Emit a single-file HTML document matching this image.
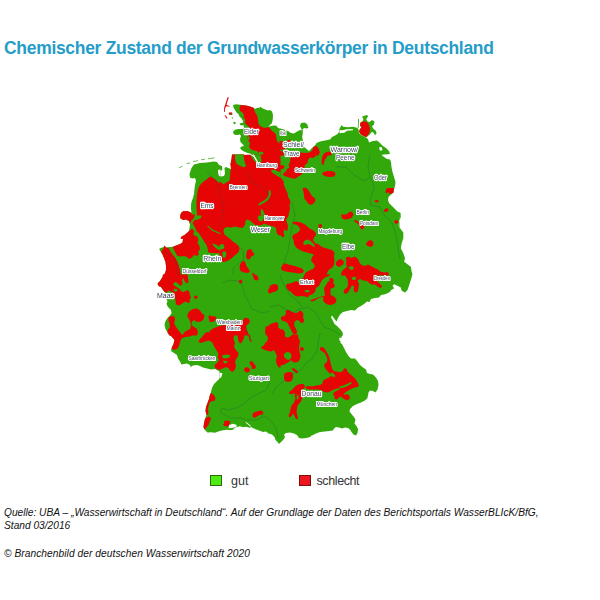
<!DOCTYPE html>
<html><head><meta charset="utf-8">
<style>
html,body{margin:0;padding:0;background:#fff;}
body{width:600px;height:600px;position:relative;overflow:hidden;font-family:"Liberation Sans",sans-serif;}
.t{position:absolute;white-space:nowrap;}
#title{left:4px;top:37.7px;font-size:17.5px;font-weight:bold;color:#259dc8;letter-spacing:-0.31px;}
.leg{font-size:12.5px;color:#333;}
.src{font-size:10.2px;line-height:12px;font-style:italic;color:#111;}
.sw{position:absolute;width:10px;height:9px;border:1px solid #555;}
svg{position:absolute;left:0;top:0;filter:blur(0.4px);}
</style></head><body>
<div class="t" id="title">Chemischer Zustand der Grundwasserkörper in Deutschland</div>
<svg id="map" width="600" height="600" viewBox="0 0 600 600">
<polygon points="233,105 236,104.2 240,104.8 246,105.5 250,106.5 253.5,107.8 255,109 256.2,108.3 260,107.5 260.6,106.6 261.5,107.8 264,109 268,110.5 270,110 272,111.5 273,115 272.8,119 272,123 270,125 268.2,126.8 272,125.8 276,125.5 278,127.8 279,128.5 280.5,128.5 280.5,155.5 252,155.5 249,153.5 246.5,152.5 244,151.5 241.5,150 240,148 241.5,146.5 244,146 242.5,144 240.5,142 240,139 241,136 240,134.5 237,135 234,134.5 233,132 234.5,130 238,129 242.5,129 244,128 243.5,125 242,125.5 240,125 239.7,123.5 241.5,123 243.2,122.5 243,121.2 241.5,118.5 239.5,116.5 238.5,114 236.5,112.5 235,110 233.5,107.5" fill="#32a80a"/>
<polygon points="233.5,122 235,121.8 235.8,123.2 234.8,124.2 233.5,123.8" fill="#32a80a"/>
<polygon points="231.8,117.5 233,117.2 233.2,118.2 232,118.5" fill="#32a80a"/>
<polygon points="301,123 304.5,122.5 307,124 308.5,127.5 307,128.5 304,128 302.5,129.5 303.2,131 302.2,131.2 301.2,128.5 300,126" fill="#32a80a"/>
<polygon points="279.5,128.5 284,129.5 288,131 291,133 294,133.5 297,131.5 300,130 302.5,130.5 302.8,133 302.2,137 302.8,140 303.5,143 304,147 306,148.5 309,151 311,149 313,147 315,145.5 316.5,143 320,141.5 325,140.5 330,139.5 332,137 336,135 338,133.5 340.5,129.5 340.5,155.5 279.5,155.5" fill="#32a80a"/>
<polygon points="339.5,128.5 341.8,125 343,126.8 348,127.2 353,126.8 357,127.8 358.5,129.2 359,133 361,135 365,137 368,139 369,142.5 373,141 377,140.5 380,143 383,146 386,148 389,151 390,153.8 388,154.2 384,154.4 381.2,155 380.6,155.5 339.5,155.5" fill="#32a80a"/>
<polygon points="362,116.5 367,115 368.2,116.2 366.2,119 367.5,121.5 369.5,122 372,120 374.5,121.5 374,124.5 372,126.2 373.2,128.5 375.6,130.5 376.6,133.2 375.2,135.2 373.5,132.8 371.8,131.8 370,134.2 368,136 366.5,137.2 363.5,136.2 360.5,134.2 359,131.5 360,129 361.5,127.5 360,125.5 360.5,122.5 362.5,121.2 363.5,119" fill="#32a80a"/>
<polygon points="358.2,119 359,119 358.6,128 357.8,128" fill="#32a80a"/>
<polygon points="194,164.5 200,163 207,162.5 214,161.5 217,162 219,165 220.5,165.5 220.5,215.5 180.5,215.5 181,213 183,211.2 187,211 190,212 191.5,213 191,209 191,205 191.5,202 193,198 194,194 194.5,189 195,185 196,181 195,178 192,178.5 190,177.5 189.5,174 190.5,171 191.5,168" fill="#32a80a"/>
<polygon points="232,154.5 280.5,154.5 280.5,215.5 219.5,215.5 219.5,175.5 221.5,176.5 224,176 225,173.5 224.5,168 226,167 229.5,168.5 231,169 230.5,164 231.5,159" fill="#32a80a"/>
<polygon points="279.5,154.5 340.5,154.5 340.5,215.5 279.5,215.5" fill="#32a80a"/>
<polygon points="339.5,154.5 381,154.5 384,157 387,159 390,159.5 391,162 391.5,167 392.5,172 394,177 395.5,182 395,186 394,189 393.5,192.5 391,194.5 388.5,197 388,200 389,203 392,206 395,209 397.5,211.5 400.5,213 400.5,215.5 339.5,215.5" fill="#32a80a"/>
<polygon points="180.5,214.5 180,218 183,220 186,219.5 189,221 190,224 189.5,228 189,231 187,233 184.5,235 181.5,236.5 180.5,238.5 183,239 182.5,242.5 180,244 176,245.5 173,246.8 170,247 166,247.5 164.5,245.5 163.5,247 161,248 159.5,248.5 159.5,250 161,252 162.5,254.5 164,258 165.5,262 166,266 166,270 165,273 163.5,275.5 220.5,275.5 220.5,214.5" fill="#32a80a"/>
<polygon points="219.5,214.5 280.5,214.5 280.5,275.5 219.5,275.5" fill="#32a80a"/>
<polygon points="279.5,214.5 340.5,214.5 340.5,275.5 279.5,275.5" fill="#32a80a"/>
<polygon points="339.5,214.5 400,214.5 399.8,218 399,221.5 398.5,225.5 400,228.5 400.5,229 400.5,275.5 339.5,275.5" fill="#32a80a"/>
<polygon points="399.5,212 400,212.5 400.8,216.7 399.2,221.7 398.3,225.8 400.8,229.2 403.3,232.5 403.3,238.3 401.7,243.3 400.8,248.3 403.3,253.3 405,258.3 404.2,261.7 407.5,264.2 410.8,266.7 411.7,271.7 412.5,274.2 410.8,280 409.2,285 407.5,290 405,292.5 401.7,290.8 400.8,287.5 397.5,285.8 394.2,284.2 392.5,285.8 394.2,288.3 390,290.8 389,291.5 389,274 399.5,274" fill="#32a80a"/>
<polygon points="163,274.5 162.5,277 160,281 157.5,283.5 158.5,286 161,287 163,290 165,292.5 167.5,293.5 166.5,296.5 166,298.5 167.5,301 166.5,304 168,307 171,310 171.5,313.5 169.5,316 167.5,318 165.5,321 164.5,325 165.5,329 167.5,332.5 169.5,335.5 210.5,335.5 210.5,274.5" fill="#32a80a"/>
<polygon points="209.5,274.5 270.5,274.5 270.5,335.5 209.5,335.5" fill="#32a80a"/>
<polygon points="269.5,274.5 330.5,274.5 330.5,335.5 269.5,335.5" fill="#32a80a"/>
<polygon points="329.5,274.5 390.5,274.5 390.5,291.5 387,293.5 384,294.5 381,295 379,297.5 375,298 371,299 369.5,302 367,301.5 364,304 361,306 358,307.5 355,310.5 351,310 347,311 343,312 340,314.5 338,318 336.5,321.5 334.5,319 332,315.5 331,317 333,321 334.5,324 337,326 340,329 342.5,332 343,335.5 329.5,335.5" fill="#32a80a"/>
<polygon points="169.5,334.5 172,337 174.5,340 173.5,344 171.5,348 171,351 174,353 177,355 178,358.5 180,361.5 181.5,364.5 184,364 187,363.5 190,365 190.5,367 193,365.5 197,365 200,366 203,367.5 207,368.5 211,369.5 215,369 218,370.5 220.5,372 220.5,334.5" fill="#32a80a"/>
<polygon points="220.5,377.8 217,381 214,384 212,388 211,392 210,395.5 220.5,395.5" fill="#32a80a"/>
<polygon points="219.5,334.5 280.5,334.5 280.5,395.5 219.5,395.5" fill="#32a80a"/>
<polygon points="279.5,334.5 340.5,334.5 340.5,395.5 279.5,395.5" fill="#32a80a"/>
<polygon points="339.5,342.5 342,344 344,348 346,352 348.5,356 351,358.5 355,358.5 357.5,361.5 360,365 363,367.5 366,369.5 367,373 370,374 373,374.5 376,377.5 378,381 378.5,385 377.5,389.5 375.5,392.5 373,391 370,390.5 368.5,392.5 368,395.5 339.5,395.5" fill="#32a80a"/>
<polygon points="339.5,334.5 342.2,334.5 341.2,338.2 339.5,339" fill="#32a80a"/>
<polygon points="210,394.5 209,399 207.5,403 206,407 205.5,411 206.5,415 205,419 204,423 203.5,427 205,430 207.5,432.5 211,432.2 215,432.7 219,431.2 223,430.2 227,429.8 230,430 233,429.8 234.5,428 237,427 240,426.2 243,427.2 246,426.8 249,427.5 250.5,428 250.5,394.5" fill="#32a80a"/>
<polygon points="249.5,394.5 310.5,394.5 310.5,437 306,438 302,438.5 299,438 297,435 294,433.5 290,432.5 286,433 284,434.5 285,437 283.5,439.5 281,442 279,444 277.5,442 275.5,440 274.5,437 272,434.5 268.5,433.5 266,431.5 263,432 259,430.5 255,429 252,427.5 249.5,426" fill="#32a80a"/>
<polygon points="309.5,394.5 368,394.5 367.5,398 365,400.5 361,402.5 357,404 353,406 350,409 349.5,411.5 351.5,414 353.5,416.5 355.5,419.5 354.5,423.5 356.5,426 358,429 357.5,433 356,435.5 353.5,434.5 351.5,432 350,429.5 348,428 345,427.5 342,428.5 339,427.5 336,427 334,428.5 333,430.5 329,431 325,431.5 320,432 316,433.5 313,435 309.5,436.5" fill="#32a80a"/>
<polygon points="219.5,165.5 222,166 222.3,170 220.5,170.8 219.5,170.5" fill="#32a80a"/>
<polygon points="227.8,97 228.8,97.5 227.8,100.5 226.8,103.5 226.5,105 229.5,106 229.5,106.8 226.2,106.2 225.2,108 224.8,112 224,112 224.2,107.5 225.2,104.5 226.2,101.5 227.2,98.5" fill="#e60505"/>
<polygon points="224.8,115 225.8,115.5 227.5,118.2 226.8,118.8 225.5,117.2" fill="#e60505"/>
<polygon points="228.5,113 230,112.2 232,112.6 232.6,114 231.5,115 229.5,115" fill="#e60505"/>
<polygon points="240.5,105 246,105.5 250,106.5 253.5,107.8 254.5,111 256,114 257.5,116.5 258,120 258.5,124 260,126 263,127.5 266,128 268.2,127 270,128.5 272,131 274.5,132.5 276,135 276.5,139 277.5,142 279,143 280.5,145 280.5,155.5 263.5,155.5 263,152 260,151.5 258.5,153 257,151 254,150.5 251,149.5 249,147 250,143 248,140 247,137 249,134 250,128 247,125 245,123 245.5,120 243.5,117.5 244,115 242.5,112.5 240,111 239.5,108.5" fill="#e60505"/>
<polygon points="279.5,141 285,141.6 290,139.5 290.5,142 286,144 285.5,149 282,149.8 279.5,149.5" fill="#e60505"/>
<polygon points="279.5,151 283,151.5 284,155.5 279.5,155.5" fill="#e60505"/>
<polygon points="300,152.5 305,153 309,152.5 312,151 313.5,147 316.2,145.8 318.5,148.5 319.8,152 318.5,155.5 300,155.5" fill="#e60505"/>
<polygon points="324,153.2 328,151.5 332,152 331.2,155.5 323.5,155.5" fill="#e60505"/>
<polygon points="360.5,122.5 364,121.2 367,122 369,125 370,129 369.5,132.5 367.5,135.5 366.5,137 363.5,136 360.5,134 359,131.5 360,129 361.5,127.5 360,125.5" fill="#e60505"/>
<polygon points="342.5,148.5 344.5,148 345.8,149.5 344.8,151.2 342.8,151" fill="#e60505"/>
<polygon points="210,176.5 213,178 216,180 219,183 220.5,183.5 220.5,215.5 197,215.5 196.5,207 196.5,201 197,195 198,189 200,185 203,182 207,179" fill="#e60505"/>
<polygon points="181,213 183,211.2 187,211 190,212 191.8,213.5 192,215.5 180.5,215.5" fill="#e60505"/>
<polygon points="232,154.5 280.5,154.5 280.5,215.5 219.5,215.5 219.5,181.5 221.5,182.5 223.5,184.5 226,182.5 229.5,181 230,176.5 230.5,171 231,169 230.5,164 231.5,159" fill="#e60505"/>
<polygon points="291,154.5 316,154.5 315,157 313,158 310,157.5 308,160 307.5,163 305,165 304.5,167.5 303,169 303,172.5 301,175 298,176.5 296,178.5 293,178.5 289,177.5 286,176.5 283.5,175.5 283,173.5 285.5,172 287,169 289.5,167.5 288.5,165 290,162 290.5,158" fill="#e60505"/>
<polygon points="279.5,165.5 283,165 284.5,166.5 283.5,168.5 281,169.5 279.5,169" fill="#e60505"/>
<polygon points="323,154.5 328,154.5 327,157 325,159.5 324,162.5 323.5,165 322,164.5 321.5,161.5 322,158" fill="#e60505"/>
<polygon points="323,172.5 327,171 331,171 334.5,172 335.5,174 334.5,176.5 330,177 326,176.5 323,175 322,173.5" fill="#e60505"/>
<polygon points="302.5,188.5 305,187.5 308,189.5 310,193 312,196 315,198.5 315.5,201 313.5,203.5 310.5,205 308,203.5 306.5,201 304.5,199 304,195 303.5,191.5" fill="#e60505"/>
<polygon points="279.5,178 281.5,178.5 283.5,181 284,185 285.5,189 287.5,193 288,197 290,200 290.5,203 289.5,205 290,209 289,213 288.5,215.5 279.5,215.5" fill="#e60505"/>
<polygon points="386.5,188.5 389,188 394,188 393.5,192.5 391,194 389,193.5 388,192 386.5,193.5 385.5,192 386,190" fill="#e60505"/>
<polygon points="374.5,200.5 377.5,200 379,201.2 377.5,202.5 375,202" fill="#e60505"/>
<polygon points="384.5,209.5 387,208 388.5,209.5 387.5,211.5 385,212 383.8,211" fill="#e60505"/>
<polygon points="346.5,214.5 348.5,212.5 351,211.5 353,213 353.5,215.5 346,215.5" fill="#e60505"/>
<polygon points="201.5,214.5 220.5,214.5 220.5,252.8 216,253.2 210,252.7 208,252.2 207.8,249 206.5,245 204.5,242 202,238 199.5,234 196.5,231 194.5,226.5 192.5,223 194.5,220 198,219.5 201,218" fill="#e60505"/>
<polygon points="180.5,214.5 195,214.5 194,218 191,221 190,224 189,221 186,219.5 183,220 180,218" fill="#e60505"/>
<polygon points="189,231 192,228.5 194.5,231.5 193,234 195,236 197.5,236.5 198.5,240 197.5,243 199.5,246 200,249.5 198,251.5 199,254 197,256 194,255 192,257.5 189,259 187,257 184,256 180,256.5 177.5,256 176,253.5 174,250 172.5,247 176,245.5 180,244 182.5,242.5 183,239 180.5,238.5 181.5,236.5 184.5,235 187,233" fill="#e60505"/>
<polygon points="164.5,245.5 166,247.5 168.5,248 170.5,251.5 173,255 175.5,258 177.5,262 179,266 180,270 181,275.5 163.5,275.5 165,273 166,270 166,266 165.5,262 164,258 162.5,254.5 161,252 162.5,249.5 164,248" fill="#e60505"/>
<polygon points="219.5,214.5 258.5,214.5 257.8,219 259.5,221.5 262.5,221 264,218 264.5,214.5 280.5,214.5 280.5,235.5 278,235 276.5,232 276,228 274,226.5 271,226 268,225 264,223.5 262,225 259,225.5 255,225 253,223 250,220.5 247,219.5 245.5,221 245,225 242.5,228 239,227.5 235,226.5 231,227.5 227,227 224,228.5 223.5,231.5 224.5,234.5 227,236.5 230,239 233,241.5 236.5,244 238.5,246 239.5,248.5 239,251.5 236.5,254 234,256 232,258 229,260 226,261.5 223,262 221.5,260.5 219.5,260" fill="#e60505"/>
<polygon points="247,250.5 250,249 252,250 252.5,252.5 254.5,253 253.5,255.5 251,256.5 250,259 247.5,259.5 246,257 246.5,253.5" fill="#e60505"/>
<polygon points="241.5,262 244,260.5 245.5,263 246.5,266 248.5,269 250,271.5 248,273 244,272.5 240.5,271 239.5,268 240,264.5" fill="#e60505"/>
<polygon points="252.5,272.5 254.5,274 255,275.5 252,275.5" fill="#e60505"/>
<polygon points="279.5,214.5 288.5,214.5 288,217 286,219.5 287,223 288,226 287.5,230 286,231 284.5,229 283.5,232 284.5,236 282.5,237.5 280.5,235 279.5,235" fill="#e60505"/>
<polygon points="292,222.5 296,221.5 301,222.5 305,224.5 308,227 310,229 313,230 315.5,232.5 316,235 314,237.5 313,240.5 315,243 319,244.5 322,247 327,248.5 332,250 334.5,252.5 334,257 334.5,261 334,265 332,268 329,269.5 327,273 326.5,275.5 305,275.5 305,273 309,270.5 313,269 315,266 313,263 311,260.5 312,257 314,254.5 311,253.5 307,252.5 303,251.5 299,249.5 296,247.5 294,244 293.5,240 292,237.5 293.5,234.5 297,233 299.5,231 300,228 297,225 293.5,224" fill="#e60505"/>
<polygon points="318.5,224.5 321.5,224 322,227 320,228.5 318.5,227" fill="#e60505"/>
<polygon points="336,262 338.5,260 340.5,259 340.5,267 338,266.5 336,265" fill="#e60505"/>
<polygon points="281,267.5 284,263 288,264.5 293,265.5 298,267 302,268.5 304,271 302.5,273 298,273.5 293,272.5 288,272 284,271 281.5,270" fill="#e60505"/>
<polygon points="341,214.5 353,214.5 352,217.5 349,219 345,219.5 342,218.5" fill="#e60505"/>
<polygon points="354.5,220 357,220.5 360,224 363.5,225 364.5,227.5 362.5,229.5 360.5,228.5 359.5,225.5 357,223 354.5,221.5" fill="#e60505"/>
<polygon points="394.5,220.5 397.5,220 398.5,222.5 396.5,224 394.5,223" fill="#e60505"/>
<polygon points="368,241 370.5,240 373,241.5 373.5,244.5 371.5,247 369,246.5 366,245 366.5,243" fill="#e60505"/>
<polygon points="339.5,259 342,259.5 344,262 343,265 339.5,266" fill="#e60505"/>
<polygon points="345.5,258 348.5,256.5 351,258 355,256.5 358,259 359.5,262.5 361.5,265 365,266 368,264.5 371,266 374.5,268 378,269.5 381,272 385,272.5 388,272 389,275.5 341,275.5 341.5,272 344,269 347,267 346,264 346.5,260.5" fill="#e60505"/>
<polygon points="163,274.5 187.5,274.5 188,278 188.5,282 186.5,283.5 184.5,281 183.5,278 182,280 182.5,284 180.5,286 178.5,284 176,282 174,282.5 173,284.5 175.5,286.5 178,288 180,289.5 182,292 185,291.5 188,290 189.5,292.5 190,295.5 191,297.5 189.5,299.5 190,302 188,303 186,301.5 183.5,302.5 181,304.5 178,305.5 176,304 175.5,301 175,297.5 174,295 173,292.5 171,291.5 168.5,290.5 166,292.5 165,292.5 163,290 161,287 158.5,286 157.5,283.5 160,281 162.5,277" fill="#e60505"/>
<polygon points="194,296 196.5,295.5 198,297.5 196.5,299 194.5,298.5" fill="#e60505"/>
<polygon points="187.5,314.5 189.5,311 193,309 197,308.5 200,310.5 202,313.5 204.5,315 204,318.5 202,321 199,322 196,321.5 194,320 192,321.5 191.5,325 194,327 197,329 198,332 197,335.5 183,335.5 184,332.5 187,330.5 190,329 191,326 190.5,322 189,319 187.5,317" fill="#e60505"/>
<polygon points="168.5,317.5 171.5,316 174.5,316.5 175,320 174,323 175.5,326 177.5,329 180,332 182,335.5 169.5,335.5 167.5,332.5 168,329.5 170,327 169.5,323 168.5,320.5" fill="#e60505"/>
<polygon points="208.5,316 210.5,315 210.5,320 209,319.5" fill="#e60505"/>
<polygon points="204.5,333.5 207,332 210.5,332.5 210.5,335.5 204,335.5" fill="#e60505"/>
<polygon points="239,280.5 241,279.5 242.5,281 242,283 240,283.5 238.8,282" fill="#e60505"/>
<polygon points="253,276 255.5,274.5 258,276.5 258.5,279.5 256.5,280.5 254,279.5" fill="#e60505"/>
<polygon points="268,289.5 270.5,288 270.5,293.5 268.5,293" fill="#e60505"/>
<polygon points="209.5,316.5 214,316 216.5,317.5 215.5,320 213,322 209.5,322" fill="#e60505"/>
<polygon points="209.5,331 213,328.5 217,327 221,325.5 226,325 242,324.5 243,320 245,317.5 248.5,318.5 250,321 248.5,324 246,326 246.5,329.5 248,332.5 248.5,335.5 209.5,335.5" fill="#e60505"/>
<polygon points="265.5,327 268.5,325.5 270.5,326 270.5,335.5 266,335.5 265,332" fill="#e60505"/>
<polygon points="269.5,286 272.5,284.5 276,284 278,286 278,289.5 275.5,291.5 272,292.5 269.5,293.5" fill="#e60505"/>
<polygon points="304.5,274.5 330.5,274.5 329,276 325,277.5 322,280 320.5,283 319,286 316,288 315,292 312,294.5 309,295.5 308,297.5 305,296.5 301,296 297,296.5 294,295 291,292 288,290 286,287 286.5,284 290,283.5 294,282 296.5,281 299,283 300,280 303,278" fill="#e60505"/>
<polygon points="324,288 326,285 328,281.5 330.5,281 330.5,305 327.5,304.5 324.5,302.5 323,300 323.5,297 320,297.5 317,299 314,301 311,301.5 310.5,300 314,299 318,297.5 322,296.5 325,295.5 324.5,292" fill="#e60505"/>
<polygon points="285.5,310.5 289,310 291.5,311.5 295,313 298,312.5 299.5,310.5 302,311.5 303.5,314 303,317 304,320 303.5,322.5 301,323 299,320.5 296.5,320 294.5,322 294,325 295.5,328 297,331 296.5,334 294,334.5 292,332 290.5,329 289,326 287.5,323 285,321.5 282,320.5 280.5,318.5 282,316.5 285,315.5 286,313" fill="#e60505"/>
<polygon points="269.5,324.5 273,323 276.5,322 278.5,324 278,327 280,329 283,329.5 285,332 285,335.5 269.5,335.5" fill="#e60505"/>
<polygon points="329.5,278 332,278 334,280 333,283 335,285 334,287.5 331,288.5 329.5,288" fill="#e60505"/>
<polygon points="329.5,295 332,295.5 335,297.5 336.5,300 335.5,303 332.5,304.5 329.5,305" fill="#e60505"/>
<polygon points="345,274.5 374,274.5 374,279 377,281 380,284 382,286 381,288 378,287 375,284.5 372,284.5 369,283 367,281 363,280.5 360,279 357.5,280.5 359,284 358.5,288 357.5,292 355,292.5 353.5,290 354,286 352,285.5 350.5,288 349,291 347,293.5 344.5,293.5 343.5,291.5 345,289 347.5,287 348,283 347.5,279 346,277" fill="#e60505"/>
<polygon points="169.5,334.5 193,334.5 190,336.5 185,337 181.5,338.5 180,342 179,346 177,349 174,350 171.5,348.5 173.5,344 174.5,340 172,337" fill="#e60505"/>
<polygon points="204,334.5 220.5,334.5 220.5,370 218,369.5 215,368 214.5,365 217,363 219,360 217.5,357 218.5,354 217,351 215,348 213.5,345 212,342 209,340.5 205,341.5 201,343 198.5,342 199.5,339.5 202,337" fill="#e60505"/>
<polygon points="210.5,393.5 212,393 212.5,395.5 210,395.5" fill="#e60505"/>
<polygon points="219.5,334.5 234,334.5 233.5,339 235,343 234,347 236,350 238.5,353 238,356.5 236,359 235,362.5 236,366 235,369.5 232.5,372 230,370.5 228.5,368 226,367 223,368.5 219.5,369.5" fill="#e60505"/>
<polygon points="237.5,334.5 244.5,334.5 244,338 242.5,341 241,343.5 239,342.5 238,339" fill="#e60505"/>
<polygon points="248.5,334.5 250,334.5 250.5,339 252,341.5 251,342 249.5,340" fill="#e60505"/>
<polygon points="267,334.5 280.5,334.5 280.5,368 278.5,367 276.5,364 276,360 277,356 275.5,353 274,350 271,351.5 268,351 265,350 261.5,348.5 261,347 264,345.5 265,343 267,341.5 268,338.5" fill="#e60505"/>
<polygon points="244.5,368 247,367 249.5,368.5 250,371 248,372.5 245.5,372 244,370" fill="#e60505"/>
<polygon points="249.5,362 252,361 253.5,363 255,365 256,367 254.5,369 252,369 251.5,366 250,364.5" fill="#e60505"/>
<polygon points="279.5,334.5 284,334.5 285.5,337 288,337.5 291,336 292,334.5 298,334.5 298.5,338 300,341 299.5,344.5 299,348 299.5,352 300.5,355 300,359 298.5,361.5 296,362.5 293,362 291,360 289.5,361.5 287,363 284,364.5 281,365.5 279.5,365" fill="#e60505"/>
<polygon points="300,347.5 302.5,347 304,349 303,351 300.5,350.5" fill="#e60505"/>
<polygon points="291.5,368 294,368.5 296.5,370 298,372 297,373.5 295,372 293,370.5" fill="#e60505"/>
<polygon points="284.5,373.5 287.5,372 291,372 293,374 293,378 291.5,381 288.5,382 285.5,381.5 284,379 284,376" fill="#e60505"/>
<polygon points="320,347.5 322.5,347 324.5,348.5 326,351 327.5,353.5 329,356.5 330,360 330.5,363 331.5,366.5 332.5,369.5 334,371.2 332,374.5 329.5,373.5 328,371.5 325.5,369 324,366 325,363.5 327,362 327.5,359.5 326.5,356.5 325,353.5 322.5,351.5 320,350" fill="#e60505"/>
<polygon points="334,371.2 337,371.5 340.5,372.5 340.5,388 338,388.2 334.5,389.2 331.5,390.8 328,392.5 324,392 322,390.5 318,389.5 313.5,389.5 310,389.5 306.5,389 305,387 308,386 312,386.5 316,385.5 320,385 322.5,383.5 323,380.5 326.5,378.5 330,377 332,374.5" fill="#e60505"/>
<polygon points="288.5,393 290.5,391 293,389 295,386.5 297.5,384.7 301,384 303.8,384.2 305,386.5 303.5,389 301.5,389.5 301,395.5 297.5,395.5 296,394 293.5,393.5 291,394.2" fill="#e60505"/>
<polygon points="333,395.5 333.5,393 336,391 339,390 340.5,390 340.5,395.5" fill="#e60505"/>
<polygon points="339.5,372.5 343,371 344,368.5 346.5,368.5 347.5,371.5 350,374 353,376.5 355.5,379 357.5,382.5 359,385.5 357.5,387 354.5,387.5 351,389 347.5,391 344.5,393 343,395.5 339.5,395.5" fill="#e60505"/>
<polygon points="210,394.5 213.5,394.5 215.5,398 215,400.5 212.5,401 210,402 208.5,406 208,410 208.5,413 207.5,415 206.5,415 205.5,411 206,407 207.5,403 209,399" fill="#e60505"/>
<polygon points="206.5,417.5 209.5,416.5 211,418.5 209.5,422 208.5,425 206,428 204.5,429.5 203.5,427 204,423 205,419" fill="#e60505"/>
<polygon points="224,421 227.5,420.5 230.5,421.5 229.5,424.5 227.5,426.5 224.5,426 223,424.5 224.5,423" fill="#e60505"/>
<polygon points="252.5,414 255,412 258.5,411 261.5,410.5 263.5,412.5 262.5,414.5 259.5,415 257,416.5 254.5,418 252.5,416.5" fill="#e60505"/>
<polygon points="294.5,394.5 297,394.5 296.5,399 298,399.5 299.5,394.5 304,394.5 302,399 300,403 298,404.5 297,408 296.5,412 297.5,416 298,419 296,419 294.5,416 293,413.5 291.5,416 289.5,417.5 288.5,415.5 290,412.5 290.5,409 291.5,405.5 294,402.5 295.5,399" fill="#e60505"/>
<polygon points="334.5,394.5 348.5,394.5 350,397.5 349,399.5 346.5,400 344,399 342,397.5 340,396.5 338.5,398 337,399.5 334.5,399" fill="#e60505"/>
<polygon points="229.8,113.2 231.2,113 231.6,114 230.2,114.4" fill="#32a80a"/>
<polygon points="247.5,136.5 249,136.2 249.6,138 249.2,140 248.2,140.2 247.6,138.5" fill="#32a80a"/>
<polygon points="235,154.5 243.5,154.5 244,159 245,163 246,165.5 244.5,167.5 241.5,166.5 238.5,165 236,163 235,159" fill="#32a80a"/>
<polygon points="250,154.5 260.5,154.5 261.2,159 261.5,161.8 259,163 256.5,163.2 254,160.5 251.5,157.2" fill="#32a80a"/>
<polygon points="271,170 274,169.5 277,171 280.5,172.5 280.5,177.5 278,176.5 275,174.5 272,172.5" fill="#32a80a"/>
<polygon points="269,190 270.5,190.5 271,193.5 270,197 268,200 265.5,202 262,204 259.5,205.5 258,204.5 261,202 264,200.5 267,198 268.5,194.5" fill="#32a80a"/>
<polygon points="261,209 262.5,209.5 264,212.5 265.5,215.5 261,215.5 260.8,212.5" fill="#32a80a"/>
<polygon points="207,226 208,225.5 212.5,229.5 220.5,233 220.5,234.2 212,230.8" fill="#32a80a"/>
<polygon points="212,243.5 216,244.5 220.5,248 220.5,251 217,249 214,246.5" fill="#32a80a"/>
<polygon points="219.5,244.5 223.5,244.2 224.5,246.5 223.5,249 219.5,249.2" fill="#32a80a"/>
<polygon points="222.5,251.8 225.5,251.2 226.5,254 225.5,257.5 223,257.8 222.2,255" fill="#32a80a"/>
<polygon points="304,241 307,239.5 310,240.5 313,243 315,246 314,247 311,245 308,244 305,245 303,244" fill="#32a80a"/>
<polygon points="348.5,267 352,266 354,268 352.5,270 349.5,269.5" fill="#32a80a"/>
<polygon points="174,288.5 177,289 177.5,291 175,292 173.5,290.5" fill="#32a80a"/>
<polygon points="304.5,290.5 308,289.8 310,291 308.5,292.5 305,292" fill="#32a80a"/>
<polygon points="351.5,277.5 354.5,276.5 356.5,278 355,280 352.5,280" fill="#32a80a"/>
<polygon points="222,355.5 226,354.5 230,355 229.5,357.5 226,358.5 222.5,358" fill="#32a80a"/>
<polygon points="223,360.5 227,361 227.5,363 224,363.5" fill="#32a80a"/>
<polygon points="284,354 286.5,352 290,352.5 291.5,355 291,358.5 288.5,360 286,359 284,356.5" fill="#32a80a"/>
<polygon points="330,373.5 332,372.5 334.5,374.5 335.5,376.5 333,377 330.5,375.5" fill="#32a80a"/>
<polygon points="339.5,386.5 343,385.5 347,384 350.5,382 352,383 349.5,385 345.5,387 342,388 339.5,388" fill="#32a80a"/>
<polygon points="339.5,130.2 344,130 346,129.2 353,129 352.8,130.2 347,130.8 344.5,132.8 339.5,133.2" fill="#fff"/>
<polygon points="379.2,147.2 381.5,147 382.5,149.5 381,151 379.5,149.8" fill="#fff"/>
<polygon points="218,170 220.5,169.5 220.5,176.5 219,176 218.2,173" fill="#fff"/>
<polygon points="252.6,154.5 253.8,154.5 255.6,157.5 258.2,162.2 257.4,162.6 254.6,158" fill="#fff"/>
<polygon points="219.5,372.8 222.5,373 221.2,377.5 219.5,378" fill="#fff"/>
<polygon points="339.2,337.8 341,337.8 341,341.2 339.6,340.8" fill="#fff"/>
<polygon points="229.2,425 233,423.8 236.2,424.8 237,426.5 234.5,427.6 231.5,428 228.5,428.2" fill="#fff"/>
<polygon points="245.5,421.8 247.5,423 250.5,425.5 250.5,426.8 248.5,425 246,423" fill="#fff"/>
<polyline points="179,167.8 182.5,166.2" fill="none" stroke="#5ab83a" stroke-width="0.9"/>
<polyline points="186.5,163.8 190,162.8" fill="none" stroke="#5ab83a" stroke-width="0.9"/>
<polyline points="193,161.6 198,160.7" fill="none" stroke="#5ab83a" stroke-width="0.9"/>
<polyline points="201,159.8 205,159.2" fill="none" stroke="#5ab83a" stroke-width="0.9"/>
<polyline points="208,158.8 214.5,157.8" fill="none" stroke="#5ab83a" stroke-width="0.9"/>
<polyline points="207,172 212,177 218,185 220,195 224,207 222,217 220,225" fill="none" stroke="rgba(30,70,90,0.3)" stroke-width="0.9"/>
<polyline points="246,171 250,181 260,187 268,193 270,205" fill="none" stroke="rgba(30,70,90,0.3)" stroke-width="0.9"/>
<polyline points="239,246 243,251 244,259 238,264 233,269 233,275" fill="none" stroke="rgba(30,70,90,0.3)" stroke-width="0.9"/>
<polyline points="164,251 170,255 176,263 178,275" fill="none" stroke="rgba(30,70,90,0.3)" stroke-width="0.9"/>
<polyline points="336,167 346,167 354,175 364,181 370,177 368,167 370,155" fill="none" stroke="rgba(30,70,90,0.3)" stroke-width="0.9"/>
<polyline points="370,177 374,187 371,197 370,205 380,207 384,215 392,223 396,235 398,249 400,259" fill="none" stroke="rgba(30,70,90,0.3)" stroke-width="0.9"/>
<polyline points="292,203 295,215 292,227 290,239 288,251 284,263" fill="none" stroke="rgba(30,70,90,0.3)" stroke-width="0.9"/>
<polyline points="222,283 230,280 238,281 242,285 244,293 248,301 252,309 262,313 270,311" fill="none" stroke="rgba(30,70,90,0.3)" stroke-width="0.9"/>
<polyline points="246,327 248,335 251,341" fill="none" stroke="rgba(30,70,90,0.3)" stroke-width="0.9"/>
<polyline points="270,307 278,305 286,309 292,313 300,309 308,307 316,313 320,321 324,327 334,331 340,335" fill="none" stroke="rgba(30,70,90,0.3)" stroke-width="0.9"/>
<polyline points="280,275 284,285 290,295 298,301 302,307" fill="none" stroke="rgba(30,70,90,0.3)" stroke-width="0.9"/>
<polyline points="320,333 318,343 317,351 312,359 306,363 300,371 294,373 286,379 276,387 272,395" fill="none" stroke="rgba(30,70,90,0.3)" stroke-width="0.9"/>
<polyline points="270,382 266,390 258,394 250,398 244,404 236,408 228,410 222,408 220,412 230,418 240,418 248,420 256,420 264,416 270,420 276,428 278,438" fill="none" stroke="rgba(30,70,90,0.3)" stroke-width="0.9"/>
<polyline points="244,154.3 250,154 254,156.5 256,160 258,162.7" fill="none" stroke="#fff" stroke-width="1.0"/>
<g style="opacity:0.999" font-family="Liberation Sans, sans-serif" stroke-linejoin="round">
<text x="244" y="133.7" font-size="7.4" textLength="14.5" lengthAdjust="spacingAndGlyphs" fill="#3c475a" font-weight="normal" stroke="#fff" stroke-width="2.3" paint-order="stroke">Eider</text>
<text x="283" y="146.7" font-size="7.4" textLength="21" lengthAdjust="spacingAndGlyphs" fill="#3c475a" font-weight="normal" stroke="#fff" stroke-width="2.3" paint-order="stroke">Schlei/</text>
<text x="284" y="156.2" font-size="7.4" textLength="15.5" lengthAdjust="spacingAndGlyphs" fill="#3c475a" font-weight="normal" stroke="#fff" stroke-width="2.3" paint-order="stroke">Trave</text>
<text x="330.5" y="151.7" font-size="7.4" textLength="27.5" lengthAdjust="spacingAndGlyphs" fill="#3c475a" font-weight="normal" stroke="#fff" stroke-width="2.3" paint-order="stroke">Warnow/</text>
<text x="336" y="160.2" font-size="7.4" textLength="18.5" lengthAdjust="spacingAndGlyphs" fill="#3c475a" font-weight="normal" stroke="#fff" stroke-width="2.3" paint-order="stroke">Peene</text>
<text x="374" y="180.2" font-size="7.4" textLength="13" lengthAdjust="spacingAndGlyphs" fill="#3c475a" font-weight="normal" stroke="#fff" stroke-width="2.3" paint-order="stroke">Oder</text>
<text x="200.5" y="207.7" font-size="7.4" textLength="13" lengthAdjust="spacingAndGlyphs" fill="#3c475a" font-weight="normal" stroke="#fff" stroke-width="2.3" paint-order="stroke">Ems</text>
<text x="250.7" y="232.2" font-size="7.4" textLength="19.3" lengthAdjust="spacingAndGlyphs" fill="#3c475a" font-weight="normal" stroke="#fff" stroke-width="2.3" paint-order="stroke">Weser</text>
<text x="342" y="248.7" font-size="7.4" textLength="12.5" lengthAdjust="spacingAndGlyphs" fill="#3c475a" font-weight="normal" stroke="#fff" stroke-width="2.3" paint-order="stroke">Elbe</text>
<text x="203.3" y="261.2" font-size="7.4" textLength="17.9" lengthAdjust="spacingAndGlyphs" fill="#3c475a" font-weight="normal" stroke="#fff" stroke-width="2.3" paint-order="stroke">Rhein</text>
<text x="157" y="297.7" font-size="7.4" textLength="17" lengthAdjust="spacingAndGlyphs" fill="#30384a" font-weight="normal" stroke="#fff" stroke-width="2.3" paint-order="stroke">Maas</text>
<text x="301.5" y="395.7" font-size="7.4" textLength="20" lengthAdjust="spacingAndGlyphs" fill="#3c475a" font-weight="normal" stroke="#fff" stroke-width="2.3" paint-order="stroke">Donau</text>
<text x="280" y="134.7" font-size="5.2" textLength="6" lengthAdjust="spacingAndGlyphs" fill="#424c5e" font-weight="normal" stroke="#fff" stroke-width="1.9" paint-order="stroke">Kiel</text>
<text x="256.5" y="167.2" font-size="5.2" textLength="20.5" lengthAdjust="spacingAndGlyphs" fill="#424c5e" font-weight="normal" stroke="#fff" stroke-width="1.9" paint-order="stroke">Hamburg</text>
<text x="295" y="171.7" font-size="5.2" textLength="20" lengthAdjust="spacingAndGlyphs" fill="#424c5e" font-weight="normal" stroke="#fff" stroke-width="1.9" paint-order="stroke">Schwerin</text>
<text x="229.5" y="188.7" font-size="5.2" textLength="17.5" lengthAdjust="spacingAndGlyphs" fill="#424c5e" font-weight="normal" stroke="#fff" stroke-width="1.9" paint-order="stroke">Bremen</text>
<text x="356.5" y="214.2" font-size="5.2" textLength="12.5" lengthAdjust="spacingAndGlyphs" fill="#424c5e" font-weight="normal" stroke="#fff" stroke-width="1.9" paint-order="stroke">Berlin</text>
<text x="264.5" y="220.2" font-size="5.2" textLength="19.5" lengthAdjust="spacingAndGlyphs" fill="#424c5e" font-weight="normal" stroke="#fff" stroke-width="1.9" paint-order="stroke">Hannover</text>
<text x="360" y="224.7" font-size="5.2" textLength="18.5" lengthAdjust="spacingAndGlyphs" fill="#424c5e" font-weight="normal" stroke="#fff" stroke-width="1.9" paint-order="stroke">Potsdam</text>
<text x="318.5" y="233.2" font-size="5.2" textLength="23.5" lengthAdjust="spacingAndGlyphs" fill="#424c5e" font-weight="normal" stroke="#fff" stroke-width="1.9" paint-order="stroke">Magdeburg</text>
<text x="182.5" y="272.7" font-size="5.2" textLength="24" lengthAdjust="spacingAndGlyphs" fill="#424c5e" font-weight="normal" stroke="#fff" stroke-width="1.9" paint-order="stroke">Düsseldorf</text>
<text x="374" y="280.2" font-size="5.2" textLength="16" lengthAdjust="spacingAndGlyphs" fill="#424c5e" font-weight="normal" stroke="#fff" stroke-width="1.9" paint-order="stroke">Dresden</text>
<text x="300" y="283.7" font-size="5.2" textLength="13.5" lengthAdjust="spacingAndGlyphs" fill="#424c5e" font-weight="normal" stroke="#fff" stroke-width="1.9" paint-order="stroke">Erfurt</text>
<text x="217" y="323.7" font-size="5.2" textLength="25" lengthAdjust="spacingAndGlyphs" fill="#424c5e" font-weight="normal" stroke="#fff" stroke-width="1.9" paint-order="stroke">Wiesbaden</text>
<text x="226.5" y="330.2" font-size="5.2" textLength="13.5" lengthAdjust="spacingAndGlyphs" fill="#424c5e" font-weight="normal" stroke="#fff" stroke-width="1.9" paint-order="stroke">Mainz</text>
<text x="188.5" y="359.7" font-size="5.2" textLength="27" lengthAdjust="spacingAndGlyphs" fill="#424c5e" font-weight="normal" stroke="#fff" stroke-width="1.9" paint-order="stroke">Saarbrücken</text>
<text x="249" y="379.7" font-size="5.2" textLength="20" lengthAdjust="spacingAndGlyphs" fill="#424c5e" font-weight="normal" stroke="#fff" stroke-width="1.9" paint-order="stroke">Stuttgart</text>
<text x="316.5" y="405.7" font-size="5.2" textLength="20.5" lengthAdjust="spacingAndGlyphs" fill="#424c5e" font-weight="normal" stroke="#fff" stroke-width="1.9" paint-order="stroke">München</text>
</g>
</svg>
<div class="sw" style="left:210px;top:475px;background:#4fea14;border-color:#2a6a0c;"></div>
<div class="t leg" style="left:231px;top:473.5px;">gut</div>
<div class="sw" style="left:299px;top:475px;width:9.5px;background:#ec161e;border-color:#7e0c10;"></div>
<div class="t leg" style="left:316.5px;top:473.5px;letter-spacing:-0.4px;">schlecht</div>
<div class="t src" style="left:4px;top:506.5px;">Quelle: UBA – „Wasserwirtschaft in Deutschland“. Auf der Grundlage der Daten des Berichtsportals WasserBLIcK/BfG,</div>
<div class="t src" style="left:4px;top:519.5px;">Stand 03/2016</div>
<div class="t src" style="left:4px;top:548px;letter-spacing:0.06px;">© Branchenbild der deutschen Wasserwirtschaft 2020</div>
</body></html>
